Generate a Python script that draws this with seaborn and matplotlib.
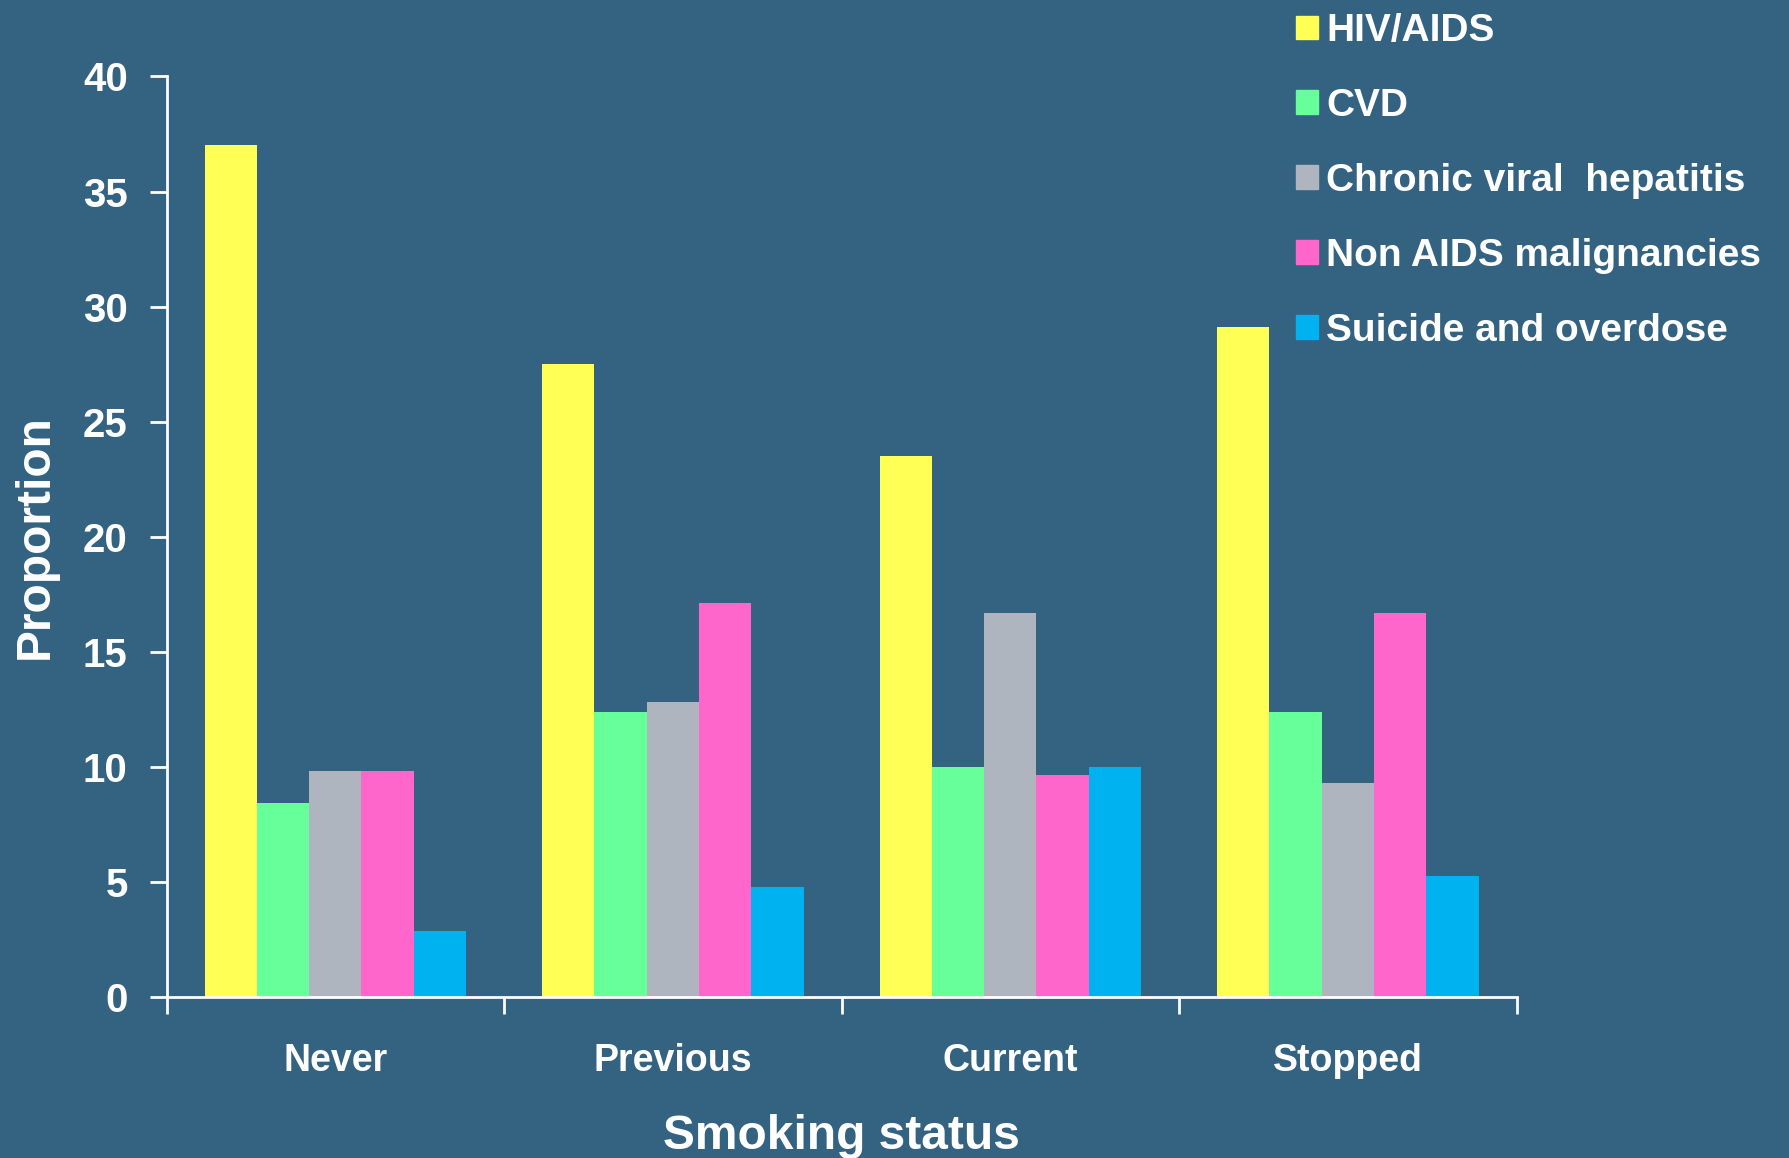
import pandas as pd
import matplotlib
matplotlib.use('Agg')
import matplotlib.pyplot as plt
import seaborn as sns

# Chart values
statuses = ['Never', 'Previous', 'Current', 'Stopped']
causes = ['HIV/AIDS', 'CVD', 'Chronic viral  hepatitis',
          'Non AIDS malignancies', 'Suicide and overdose']
hiv_aids = [37.0, 27.5, 23.5, 29.1]
cvd = [8.45, 12.4, 10.0, 12.4]
hepatitis = [9.8, 12.8, 16.7, 9.3]
non_aids = [9.8, 17.1, 9.65, 16.7]
suicide = [2.85, 4.8, 10.0, 5.25]
colors = ['#FFFF55', '#66FF99', '#AEB5BF', '#FF66CC', '#00B2F0']
y_ticks = [0, 5, 10, 15, 20, 25, 30, 35, 40]

bg = '#346382'

rows = []
for cause, vals in zip(causes, [hiv_aids, cvd, hepatitis, non_aids, suicide]):
    for status, v in zip(statuses, vals):
        rows.append({'status': status, 'cause': cause, 'value': v})
df = pd.DataFrame(rows)

sns.set_theme(style='white')
plt.rcParams['font.family'] = ['Liberation Sans', 'DejaVu Sans']

fig = plt.figure(figsize=(17.89, 11.58), dpi=100, facecolor=bg)
ax = fig.add_axes([0.0931, 0.139, 0.7546, 0.795])
ax.set_facecolor(bg)

sns.barplot(data=df, x='status', y='value', hue='cause', order=statuses,
            hue_order=causes, palette=colors, saturation=1, width=0.775,
            linewidth=0, ax=ax, legend=False)

ax.set_xlim(-0.5, 3.5)
ax.set_ylim(0, 40)
ax.set_yticks(y_ticks)
ax.set_yticklabels([str(t) for t in y_ticks], fontsize=29, fontweight='bold', color='white')

# ticks on category boundaries, labels at centres
ax.set_xticks([-0.5, 0.5, 1.5, 2.5, 3.5])
ax.set_xticklabels([])
ax.set_xticks(range(len(statuses)), minor=True)
ax.set_xticklabels(statuses, minor=True, fontsize=27, fontweight='bold', color='white')
ax.tick_params(axis='x', which='minor', length=0, pad=33)
ax.tick_params(axis='both', which='major', direction='out', length=12, width=2,
               color='white', left=True, bottom=True)
ax.tick_params(axis='y', pad=16)

for side in ['top', 'right']:
    ax.spines[side].set_visible(False)
for side in ['left', 'bottom']:
    ax.spines[side].set_color('white')
    ax.spines[side].set_linewidth(2)

ax.set_xlabel('Smoking status', fontsize=34.5, fontweight='bold', color='white', labelpad=25)
ax.set_ylabel('Proportion', fontsize=34.5, fontweight='bold', color='white', labelpad=18)

handles = [plt.Rectangle((0, 0), 1, 1, color=c) for c in colors]
fig.legend(handles, causes, loc='upper left', bbox_to_anchor=(0.705, 1.019),
           frameon=False, labelcolor='white', handlelength=0.55,
           handleheight=0.55, handletextpad=0.22, labelspacing=1.0,
           prop={'size': 28, 'weight': 'bold'})

fig.savefig('out.png', dpi=100, facecolor=bg)
